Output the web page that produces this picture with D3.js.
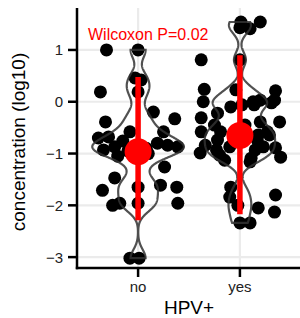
<!DOCTYPE html>
<html><head><meta charset="utf-8">
<script src="https://cdn.jsdelivr.net/npm/d3@7"></script>
<style>body{margin:0;background:#fff}svg{display:block}</style>
</head><body><svg id="c" width="300" height="318"></svg>
<script>
const categories = ["no", "yes"];
const noValues = [1.00,1.00,0.46,0.42,0.19,0.19,-0.20,-0.33,-0.39,-0.58,-0.58,-0.70,-0.68,-0.93,-0.87,-1.05,-0.80,-0.84,-0.87,-1.26,-1.47,-1.71,-1.61,-1.65,-2.00,-1.96,-1.96,-1.65,-1.96,-3.02,-3.02,-0.92,-0.98,-0.90,-1.00,-0.76,-0.95];
const noJitter = [-0.31,0.00,-0.03,0.03,0.00,-0.37,0.15,0.36,-0.32,-0.08,0.25,-0.39,-0.29,-0.34,-0.23,-0.20,0.19,0.29,0.39,0.26,-0.23,-0.35,0.22,0.38,-0.25,-0.18,0.39,0.00,0.00,-0.08,0.01,0.02,-0.05,0.08,0.10,-0.15,-0.10];
const yesValues = [1.54,1.54,1.41,1.43,0.81,0.81,0.24,0.21,0.23,0.00,0.03,0.03,0.00,-0.10,-0.22,-0.31,-0.39,-0.45,-0.39,-0.58,-0.58,-0.58,-0.64,-0.64,-0.84,-0.74,-0.99,-0.87,-0.89,-1.07,-0.93,-0.87,-1.13,-1.09,-1.03,-1.16,-1.65,-1.84,-1.80,-2.05,-2.13,-2.34,-2.34,-2.00,-0.06,-0.06,-0.02,-0.74,-0.93,-0.64,-0.70,-0.45];
const yesJitter = [0.01,0.20,0.10,0.00,-0.38,0.00,-0.35,0.35,-0.04,-0.36,0.34,0.20,0.13,-0.09,-0.22,-0.38,0.39,-0.25,0.20,-0.38,0.27,-0.19,0.18,0.29,-0.34,-0.22,-0.39,0.23,0.35,0.40,0.15,-0.10,-0.15,0.11,-0.20,0.10,-0.09,-0.10,0.35,0.18,0.34,0.00,0.10,-0.02,0.02,0.14,0.31,0.17,-0.23,0.02,-0.05,0.05];
const centerValues = [-0.965, -0.65];
const lowValues = [-2.29, -2.17];
const highValues = [0.48, 0.90];
const yTicks = [-3, -2, -1, 0, 1];
const yDomain = [-3.21, 1.81];
const pLabel = "Wilcoxon P=0.02";
const xTitle = "HPV+";
const yTitle = "concentration (log10)";

(function () {
const groups = [
  {name: categories[0], values: noValues, jitter: noJitter},
  {name: categories[1], values: yesValues, jitter: yesJitter}
];

const svg = d3.select("#c");
const font = "'Liberation Sans', Arial, Helvetica, sans-serif";
const pL = 77, pR = 301, pT = 8, pB = 268;
const x = d3.scaleLinear().domain([0.4, 2.6]).range([pL, pR]);
const y = d3.scaleLinear().domain(yDomain).range([pB, pT]);
const bwAdjust = 0.5;

// grid
const grid = svg.append("g");
grid.selectAll("line.h").data(yTicks).join("line")
  .attr("x1", pL).attr("x2", pR).attr("y1", d => y(d)).attr("y2", d => y(d))
  .attr("stroke", "#ebebeb").attr("stroke-width", 2.2);
grid.append("g").selectAll("line").data(categories).join("line")
  .attr("x1", (d, i) => x(i + 1)).attr("x2", (d, i) => x(i + 1)).attr("y1", pT).attr("y2", pB)
  .attr("stroke", "#ebebeb").attr("stroke-width", 2.2);

// KDE
function nrd0(v) {
  const n = v.length, s = d3.deviation(v);
  const sorted = [...v].sort(d3.ascending);
  const iqr = d3.quantile(sorted, 0.75) - d3.quantile(sorted, 0.25);
  const lo = Math.min(s, iqr / 1.34);
  return 0.9 * lo * Math.pow(n, -0.2);
}
groups.forEach(g => {
  const bw = nrd0(g.values) * bwAdjust;
  const [mn, mx] = d3.extent(g.values);
  const pts = d3.range(512).map(i => mn + (mx - mn) * i / 511);
  g.dens = pts.map(p => {
    let s = 0;
    for (const v of g.values) { const u = (p - v) / bw; s += Math.exp(-0.5 * u * u); }
    return [p, s / (g.values.length * bw * Math.sqrt(2 * Math.PI))];
  });
});
const maxD = d3.max(groups, g => d3.max(g.dens, d => d[1]));

// points
groups.forEach((g, gi) => {
  svg.append("g").selectAll("circle").data(g.values).join("circle")
    .attr("cx", (d, i) => x(gi + 1 + g.jitter[i]))
    .attr("cy", d => y(d))
    .attr("r", 6.5).attr("fill", "#000");
});

// violins
const line = d3.line().x(d => d[0]).y(d => d[1]);
groups.forEach((g, gi) => {
  const c = gi + 1;
  const rightSide = g.dens.map(d => [x(c + d[1] / maxD * 0.45), y(d[0])]);
  const leftSide = g.dens.slice().reverse().map(d => [x(c - d[1] / maxD * 0.45), y(d[0])]);
  svg.append("path").attr("d", line(rightSide.concat(leftSide)) + "Z")
    .attr("fill", "none").attr("stroke", "#333").attr("stroke-opacity", 0.85).attr("stroke-width", 2.2);
});

// red summaries
const sg = svg.append("g");
sg.append("g").selectAll("line").data(categories).join("line")
  .attr("x1", (d, i) => x(i + 1)).attr("x2", (d, i) => x(i + 1))
  .attr("y1", (d, i) => y(lowValues[i])).attr("y2", (d, i) => y(highValues[i]))
  .attr("stroke", "#ff0000").attr("stroke-width", 5.5);
sg.append("g").selectAll("circle").data(categories).join("circle")
  .attr("cx", (d, i) => x(i + 1)).attr("cy", (d, i) => y(centerValues[i]))
  .attr("r", 13.5).attr("fill", "#ff0000");

// axes
const ya = svg.append("g");
ya.append("line").attr("x1", pL).attr("x2", pL).attr("y1", pT).attr("y2", pB + 1.2)
  .attr("stroke", "#000").attr("stroke-width", 2.5);
ya.append("g").selectAll("line").data(yTicks).join("line")
  .attr("x1", pL - 9).attr("x2", pL).attr("y1", d => y(d)).attr("y2", d => y(d))
  .attr("stroke", "#000").attr("stroke-width", 2.5);
ya.append("g").selectAll("text").data(yTicks).join("text")
  .attr("x", pL - 14).attr("y", d => y(d)).attr("dy", "0.36em")
  .attr("text-anchor", "end").attr("font-family", font).attr("font-size", 15).attr("fill", "#222")
  .text(d => d < 0 ? "\u2212" + Math.abs(d) : String(d));

const xa = svg.append("g");
xa.append("line").attr("x1", pL - 1.2).attr("x2", pR).attr("y1", pB).attr("y2", pB)
  .attr("stroke", "#000").attr("stroke-width", 2.5);
xa.append("g").selectAll("line").data(categories).join("line")
  .attr("x1", (d, i) => x(i + 1)).attr("x2", (d, i) => x(i + 1)).attr("y1", pB).attr("y2", pB + 9)
  .attr("stroke", "#000").attr("stroke-width", 2.5);
xa.append("g").selectAll("text").data(categories).join("text")
  .attr("x", (d, i) => x(i + 1)).attr("y", 292)
  .attr("text-anchor", "middle").attr("font-family", font).attr("font-size", 15).attr("fill", "#222")
  .text(d => d);

svg.append("text").attr("x", (pL + pR) / 2).attr("y", 314)
  .attr("text-anchor", "middle").attr("font-family", font).attr("font-size", 19).attr("fill", "#000")
  .text(xTitle);
svg.append("text").attr("transform", `translate(25,${(pT + pB) / 2 + 4}) rotate(-90)`)
  .attr("text-anchor", "middle").attr("font-family", font).attr("font-size", 19).attr("fill", "#000")
  .text(yTitle);

svg.append("text").attr("x", 88).attr("y", 39.5)
  .attr("font-family", font).attr("font-size", 16).attr("fill", "#ff0000")
  .text(pLabel);
})();
</script></body></html>
